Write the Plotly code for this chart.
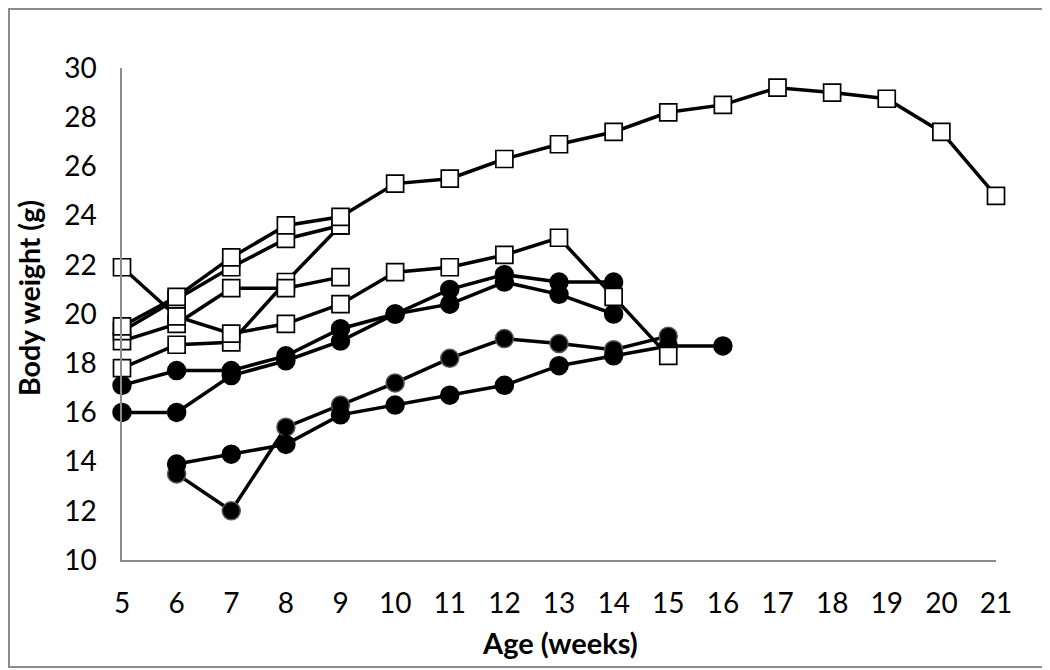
import plotly.graph_objects as go

# ---- data ----
weeks_s4 = list(range(5, 22))
weight_s4 = [19.5, 20.7, 22.3, 23.6, 23.95, 25.3, 25.5, 26.3, 26.9, 27.4, 28.2, 28.5, 29.2, 29.0, 28.75, 27.4, 24.8]

weeks_s5 = list(range(5, 10))
weight_s5 = [19.3, 20.6, 21.9, 23.05, 23.6]

weeks_s1 = list(range(5, 16))
weight_s1 = [21.9, 19.9, 19.2, 19.6, 20.4, 21.7, 21.9, 22.4, 23.1, 20.7, 18.3]

weeks_s2 = list(range(5, 10))
weight_s2 = [18.9, 19.6, 21.05, 21.05, 21.5]

weeks_s3 = list(range(5, 10))
weight_s3 = [17.8, 18.75, 18.85, 21.3, 23.6]

weeks_c1 = list(range(5, 15))
weight_c1 = [17.1, 17.7, 17.7, 18.3, 19.4, 20.0, 21.0, 21.6, 21.3, 21.3]

weeks_c2 = list(range(5, 15))
weight_c2 = [16.0, 16.0, 17.5, 18.1, 18.9, 20.0, 20.4, 21.3, 20.8, 20.0]

weeks_d1 = list(range(6, 16))
weight_d1 = [13.5, 12.0, 15.4, 16.3, 17.2, 18.2, 19.0, 18.8, 18.55, 19.1]

weeks_d2 = list(range(6, 17))
weight_d2 = [13.9, 14.3, 14.7, 15.9, 16.3, 16.7, 17.1, 17.9, 18.3, 18.7, 18.7]

x_ticks = list(range(5, 22))
y_ticks = list(range(10, 31, 2))

FONT = "Lato, Carlito, Calibri, 'Open Sans', sans-serif"

fig = go.Figure()

def circle_trace(x, y, edge="black"):
    fig.add_trace(go.Scatter(
        x=x, y=y, mode="lines+markers", cliponaxis=False,
        line=dict(color="black", width=3.5),
        marker=dict(symbol="circle", size=18, color="black",
                    line=dict(color=edge, width=1.5)),
        showlegend=False, hoverinfo="x+y"))

def square_trace(x, y):
    fig.add_trace(go.Scatter(
        x=x, y=y, mode="lines+markers", cliponaxis=False,
        line=dict(color="black", width=3.5),
        marker=dict(symbol="square", size=17, color="white",
                    line=dict(color="black", width=1.7)),
        showlegend=False, hoverinfo="x+y"))

circle_trace(weeks_d1, weight_d1, edge="#555555")
circle_trace(weeks_d2, weight_d2)
circle_trace(weeks_c1, weight_c1)
circle_trace(weeks_c2, weight_c2)
square_trace(weeks_s3, weight_s3)
square_trace(weeks_s2, weight_s2)
square_trace(weeks_s1, weight_s1)
square_trace(weeks_s5, weight_s5)
square_trace(weeks_s4, weight_s4)

# page places the figure at an 8px body margin; figure coordinates = screen - 8
OFF = 8
W, H = 1042, 662
L, T = 122 - OFF, 68 - OFF
R = W - (996 - OFF)
B = H - (560 - OFF)
pw, ph = W - L - R, H - T - B

def px_x(p):
    return (p - OFF - L) / pw

def px_y(p):
    return (H - B - (p - OFF)) / ph

fig.update_layout(
    width=W, height=H,
    margin=dict(l=L, r=R, t=T, b=B, autoexpand=False),
    paper_bgcolor="white", plot_bgcolor="white",
    font=dict(family=FONT, color="black"),
    xaxis=dict(range=[5, 21], tickvals=x_ticks, showgrid=False, zeroline=False,
               showline=True, linecolor="#8c8c8c", linewidth=1.5,
               ticks="", tickfont=dict(size=28, family=FONT),
               ticklabelstandoff=18),
    yaxis=dict(range=[10, 30], tickvals=y_ticks, showgrid=False, zeroline=False,
               showline=True, linecolor="#8c8c8c", linewidth=1.5,
               ticks="", tickfont=dict(size=28, family=FONT),
               ticklabelstandoff=18),
    annotations=[
        dict(text="<b>Age (weeks)</b>", xref="paper", yref="paper",
             x=px_x(560), y=px_y(642), showarrow=False,
             font=dict(size=29, family=FONT), xanchor="center", yanchor="middle"),
        dict(text="<b>Body weight (g)</b>", xref="paper", yref="paper",
             x=px_x(29), y=px_y(298), showarrow=False, textangle=-90,
             font=dict(size=28.5, family=FONT), xanchor="center", yanchor="middle"),
    ],
    shapes=[
        dict(type="rect", xref="paper", yref="paper",
             x0=px_x(OFF + 1), x1=px_x(1047), y0=px_y(667), y1=px_y(OFF + 1),
             line=dict(color="#8c8c8c", width=2), fillcolor="rgba(0,0,0,0)",
             layer="below"),
    ],
)

fig.write_html("out.html")
